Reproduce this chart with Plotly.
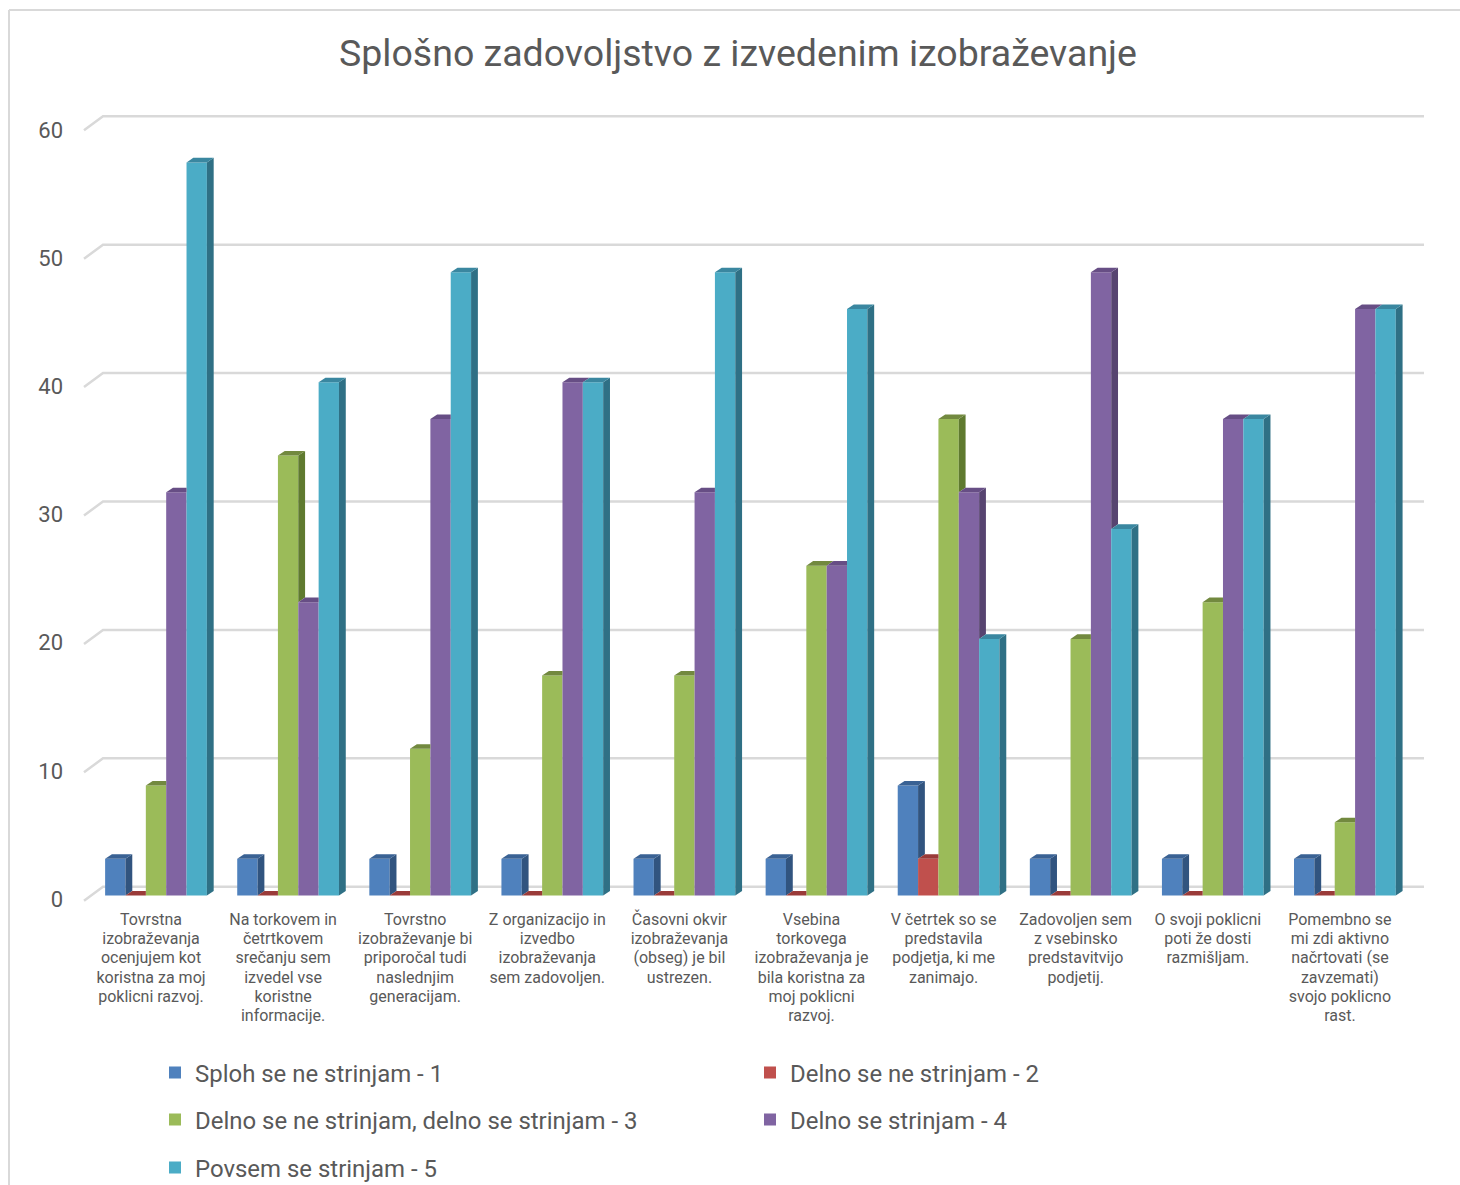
import plotly.graph_objects as go

W, H = 1460, 1185
categories = [
    "Tovrstna<br>izobraževanja<br>ocenjujem kot<br>koristna za moj<br>poklicni razvoj.",
    "Na torkovem in<br>četrtkovem<br>srečanju sem<br>izvedel vse<br>koristne<br>informacije.",
    "Tovrstno<br>izobraževanje bi<br>priporočal tudi<br>naslednjim<br>generacijam.",
    "Z organizacijo in<br>izvedbo<br>izobraževanja<br>sem zadovoljen.",
    "Časovni okvir<br>izobraževanja<br>(obseg) je bil<br>ustrezen.",
    "Vsebina<br>torkovega<br>izobraževanja je<br>bila koristna za<br>moj poklicni<br>razvoj.",
    "V četrtek so se<br>predstavila<br>podjetja, ki me<br>zanimajo.",
    "Zadovoljen sem<br>z vsebinsko<br>predstavitvijo<br>podjetij.",
    "O svoji poklicni<br>poti že dosti<br>razmišljam.",
    "Pomembno se<br>mi zdi aktivno<br>načrtovati (se<br>zavzemati)<br>svojo poklicno<br>rast.",
]
series_names = [
    "Sploh se ne strinjam - 1",
    "Delno se ne strinjam - 2",
    "Delno se ne strinjam, delno se strinjam - 3",
    "Delno se strinjam - 4",
    "Povsem se strinjam - 5",
]
sploh_1 = [2.86, 2.86, 2.86, 2.86, 2.86, 2.86, 8.57, 2.86, 2.86, 2.86]
delno_ne_2 = [0, 0, 0, 0, 0, 0, 2.86, 0, 0, 0]
delno_3 = [8.57, 34.29, 11.43, 17.14, 17.14, 25.71, 37.14, 20.0, 22.86, 5.71]
delno_da_4 = [31.43, 22.86, 37.14, 40.0, 31.43, 25.71, 31.43, 48.57, 37.14, 45.71]
povsem_5 = [57.14, 40.0, 48.57, 40.0, 48.57, 45.71, 20.0, 28.57, 37.14, 45.71]
series_values = [sploh_1, delno_ne_2, delno_3, delno_da_4, povsem_5]
y_ticks = [0, 10, 20, 30, 40, 50, 60]

front_colors = ["#4f81bd", "#c0504d", "#9bbb59", "#8064a2", "#4bacc6"]
top_colors = ["#3a6294", "#9a3b39", "#72893f", "#674e85", "#3a87a0"]
side_colors = ["#31547f", "#7d302e", "#5f7a2f", "#574470", "#2f7085"]
text_color = "#595959"
grid_color = "#d9d9d9"
font = "Roboto"

# pixel layout helpers
PL, PR, PT, PB = 64, 1430, 100, 909
PX_CAT = 132.1
CAT0_PX = 151
PX_UNIT = 12.83
ZERO_PX = 895.5
xr = [(PL - CAT0_PX) / PX_CAT, (PR - CAT0_PX) / PX_CAT]
yr = [(ZERO_PX - PB) / PX_UNIT, (ZERO_PX - PT) / PX_UNIT]
bar_w = 20.35 / PX_CAT
shift = 5 / PX_CAT
dx, dy = 6.8 / PX_CAT, 4.6 / PX_UNIT


def px(x):
    return (x - PL) / (PR - PL)


def py(y):
    return (PB - y) / (PB - PT)


def y_from_px(p):
    return (ZERO_PX - p) / PX_UNIT


def tick_label(text):
    # text drawn at 16px on the line pitch of a smaller tick font
    return "<br>".join(f'<span style="font-size:16px">{line}</span>' for line in text.split("<br>"))


fig = go.Figure()
idx = list(range(len(categories)))
for s, vals in enumerate(series_values):
    lid = "legend" if s == 0 else f"legend{s + 1}"
    fig.add_trace(go.Bar(
        x=[i + shift for i in idx], y=vals, name=series_names[s], width=bar_w,
        offset=(s - 2.5) * bar_w, marker=dict(color=front_colors[s], line=dict(width=0)),
        legend=lid, showlegend=True,
    ))

for s, vals in enumerate(series_values):
    nxt = series_values[s + 1] if s < 4 else [0] * len(vals)
    sx, sy, tx, ty = [], [], [], []
    for i, h in zip(idx, vals):
        x0 = i + shift + (s - 2.5) * bar_w
        x1 = x0 + bar_w
        nh = nxt[i]
        if nh < h:
            sx += [x1, x1 + dx, x1 + dx, x1, x1, None]
            sy += [nh, nh + dy, h + dy, h, nh, None]
        if nh > h:
            tx += [x0, x1, x1, x0 + dx, x0, None]
            ty += [h, h, h + dy, h + dy, h, None]
        else:
            tx += [x0, x1, x1 + dx, x0 + dx, x0, None]
            ty += [h, h, h + dy, h + dy, h, None]
    for xs, ys, col in ((sx, sy, side_colors[s]), (tx, ty, top_colors[s])):
        fig.add_trace(go.Scatter(x=xs, y=ys, mode="lines", fill="toself", fillcolor=col,
                                 line=dict(width=0, color=col), hoverinfo="skip", showlegend=False))

# perspective gridlines, behind the bars
shapes = []
gx_front = (84 - CAT0_PX) / PX_CAT
gx_back = (103 - CAT0_PX) / PX_CAT
gx_right = (1424 - CAT0_PX) / PX_CAT
for v in y_ticks:
    yf = y_from_px(900.7 - 12.84 * v)
    yb = y_from_px(886.7 - 12.84 * v)
    shapes.append(dict(type="path", xref="x", yref="y", layer="below",
                       path=f"M{gx_front},{yf} L{gx_back},{yb} L{gx_right},{yb}",
                       line=dict(color=grid_color, width=2.5)))
# chart frame
shapes.append(dict(type="line", xref="paper", yref="paper", x0=px(9), x1=px(W), y0=py(10), y1=py(10),
                   line=dict(color=grid_color, width=2)))
shapes.append(dict(type="line", xref="paper", yref="paper", x0=px(9), x1=px(9), y0=py(10), y1=py(H),
                   line=dict(color=grid_color, width=2)))

layout_legends = {}
legend_pos = [(168.5, 1073), (763.5, 1073), (168.5, 1120), (763.5, 1120), (168.5, 1168)]
for s, (lx, ly) in enumerate(legend_pos):
    key = "legend" if s == 0 else f"legend{s + 1}"
    layout_legends[key] = dict(x=px(lx), y=py(ly), xanchor="left", yanchor="middle",
                               bgcolor="rgba(0,0,0,0)", indentation=-13.5,
                               font=dict(family=font, size=23.95, color=text_color))

fig.update_layout(
    width=W, height=H, autosize=False, paper_bgcolor="white", plot_bgcolor="white",
    margin=dict(l=PL, r=W - PR, t=PT, b=H - PB, pad=0, autoexpand=False),
    barmode="overlay", shapes=shapes,
    font=dict(family=font, color=text_color),
    title=dict(text="Splošno zadovoljstvo z izvedenim izobraževanje", x=738 / W, xanchor="center",
               y=1 - 53 / H, yanchor="middle", font=dict(family=font, size=37.5, color=text_color)),
    xaxis=dict(range=xr, tickmode="array", tickvals=idx, ticktext=[tick_label(c) for c in categories],
               showgrid=False, zeroline=False, showline=False, ticks="", tickangle=0,
               tickfont=dict(family=font, size=14.8, color=text_color)),
    yaxis=dict(range=yr, tickmode="array", tickvals=[y_from_px(899 - 12.82 * v) for v in y_ticks],
               ticktext=[str(v) for v in y_ticks], showgrid=False, zeroline=False, showline=False,
               ticks="", tickfont=dict(family=font, size=22, color=text_color)),
    **layout_legends,
)
fig.write_html("out.html", config={"displayModeBar": False},
               post_script="document.body.style.margin='0';document.documentElement.style.overflow='hidden';")
